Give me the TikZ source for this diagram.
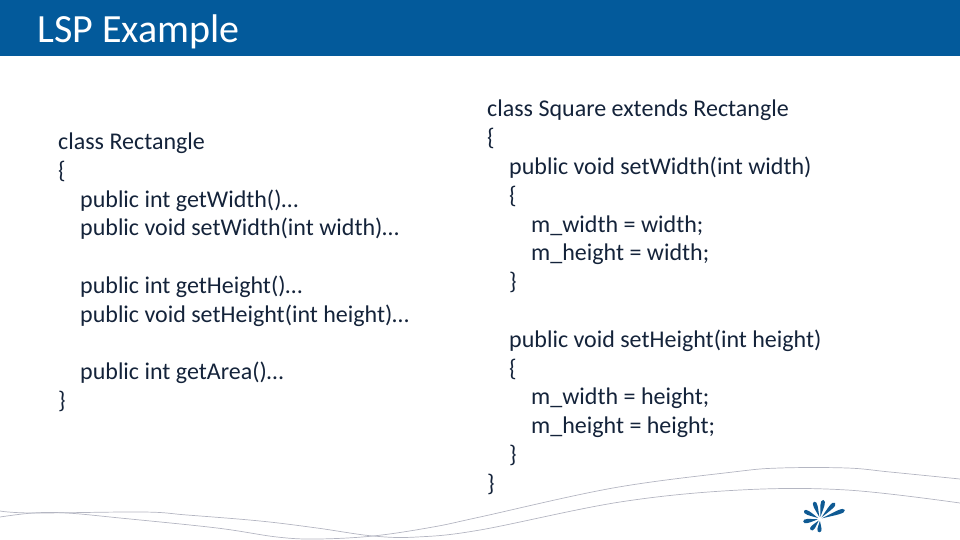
\documentclass[tikz,border=0pt]{standalone}
\usepackage{fontspec}
\setmainfont{Carlito}
\definecolor{barblue}{HTML}{035A9B}
\definecolor{logoblue}{HTML}{0F5A93}
\definecolor{codeink}{HTML}{14233A}
\definecolor{swoosh}{HTML}{B4B6C2}
\newcommand{\ind}{\hspace*{22pt}}
\newcommand{\indd}{\hspace*{44pt}}
\begin{document}
\begin{tikzpicture}[x=1pt,y=-1pt,
    code/.style = {anchor=north west, inner sep=0pt, align=left, text=codeink, font=\fontsize{24}{28.8}\selectfont},
    title/.style = {anchor=base west, inner sep=0pt, text=white, font=\fontsize{40}{48}\selectfont},
    wave/.style = {draw=swoosh, line width=0.7pt},
    petal/.style = {fill=logoblue}]
        \useasboundingbox (0,0) rectangle (960,540);
        \fill[barblue] (0,0) rectangle (960,56);
        \node[title] (head) at (37,43) {LSP Example};
        %
        \node[code] (rect) at (58,132.7) {class Rectangle\\
          \{\\
          \ind public int getWidth()…\\
          \ind public void setWidth(int width)…\\
          \mbox{}\\
          \ind public int getHeight()…\\
          \ind public void setHeight(int height)…\\
          \mbox{}\\
          \ind public int getArea()…\\
          \}};
        \node[code] (square) at (487,100) {class Square extends Rectangle\\
          \{\\
          \ind public void setWidth(int width)\\
          \ind \{\\
          \indd m\_width = width;\\
          \indd m\_height = width;\\
          \ind \}\\
          \mbox{}\\
          \ind public void setHeight(int height)\\
          \ind \{\\
          \indd m\_width = height;\\
          \indd m\_height = height;\\
          \ind \}\\
          \}};
        %
        \draw[wave] plot[smooth, tension=0.6] coordinates {(0,517) (33,513) (67,513) (120,518) (217,528) (277,537) (317,539) (373,536) (433,527) (480,517) (613,488) (733,472) (780,468) (847,468) (890,472) (960,479)};
        \draw[wave] plot[smooth, tension=0.6] coordinates {(0,511) (33,513) (143,512) (187,515) (260,521) (317,528) (373,536) (417,537) (480,530) (620,502) (740,490) (847,490) (960,503)};
        %
        \foreach \ang/\len in {109/18.3, 80/19.3, 47/22, 20/26.5, 153/18, 189/17, 230/14.4, 267/13.3}
          \fill[petal, shift={(820,519)}, rotate=\ang] (2,0) .. controls (\len*0.6,-1.6) and (\len-0.3,-3.8) .. (\len,0) .. controls (\len-0.3,3.8) and (\len*0.6,1.6) .. (2,0);
      \end{tikzpicture}
\end{document}
